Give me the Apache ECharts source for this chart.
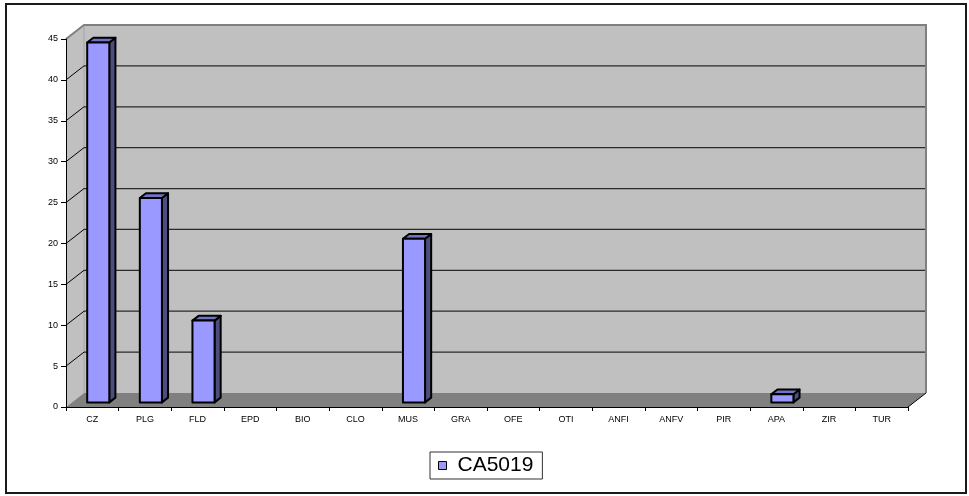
<!DOCTYPE html>
<html>
<head>
<meta charset="utf-8">
<script src="https://cdn.jsdelivr.net/npm/echarts@6/dist/echarts.min.js"></script>
<style>
  html, body { margin: 0; padding: 0; background: #fff; }
  #chart { width: 969px; height: 496px; }
</style>
</head>
<body>
<div id="chart"></div>
<script>
// Mineral categories and counts for sample CA5019
const categories = ['CZ', 'PLG', 'FLD', 'EPD', 'BIO', 'CLO', 'MUS', 'GRA', 'OFE', 'OTI', 'ANFI', 'ANFV', 'PIR', 'APA', 'ZIR', 'TUR'];
const values = [44, 25, 10, 0, 0, 0, 20, 0, 0, 0, 0, 0, 0, 1, 0, 0];
const seriesName = 'CA5019';
const yTicks = [0, 5, 10, 15, 20, 25, 30, 35, 40, 45];

// Depth of the pseudo-3D box (pixels, back plane offset)
const DX = 18, DY = -14;
const FONT = '"Liberation Sans", Arial, sans-serif';

// Walls, floor and gridlines of the 3D box
function renderFrame(params, api) {
  const cs = params.coordSys;
  const x0 = cs.x, x1 = cs.x + cs.width;
  const yt = cs.y, yb = cs.y + cs.height;
  const children = [];
  children.push({ type: 'polygon', shape: { points: [[x0, yt], [x0 + DX, yt + DY], [x0 + DX, yb + DY], [x0, yb]] },
    style: { fill: '#c0c0c0' } });
  children.push({ type: 'rect', shape: { x: x0 + DX, y: yt + DY, width: x1 - x0, height: yb - yt },
    style: { fill: '#c0c0c0' } });
  children.push({ type: 'polygon', shape: { points: [[x0, yb], [x1, yb], [x1 + DX, yb + DY], [x0 + DX, yb + DY]] },
    style: { fill: '#808080' } });
  children.push({ type: 'line', shape: { x1: x0 + DX, y1: yt + DY, x2: x0 + DX, y2: yb + DY },
    style: { stroke: '#a6a6a6', lineWidth: 1 } });
  yTicks.slice(1, -1).forEach(function (v) {
    const y = api.coord([0, v])[1];
    children.push({ type: 'line', shape: { x1: x0, y1: y, x2: x0 + DX, y2: y + DY },
      style: { stroke: '#000', lineWidth: 1 } });
    children.push({ type: 'line', shape: { x1: x0 + DX, y1: y + DY, x2: x1 + DX, y2: y + DY },
      style: { stroke: '#2a2a2a', lineWidth: 1.3 } });
  });
  children.push({ type: 'polyline', shape: { points: [[x0, yt], [x0 + DX, yt + DY], [x1 + DX, yt + DY], [x1 + DX, yb + DY]] },
    style: { stroke: '#808080', lineWidth: 2, fill: null } });
  children.push({ type: 'line', shape: { x1: x1, y1: yb, x2: x1 + DX, y2: yb + DY },
    style: { stroke: '#000', lineWidth: 1 } });
  return { type: 'group', children: children };
}

// One prism per category: front, side and top faces
function renderBar(params, api) {
  const idx = api.value(0), v = api.value(1);
  if (!v) return null;
  const base = api.coord([idx, 0]);
  const top = api.coord([idx, v]);
  const band = api.size([1, 0])[0];
  const w = band * 0.42;
  const f = 0.33, b = 0.67;
  const fx = DX * f, fy = DY * f;
  const dx = DX * (b - f), dy = DY * (b - f);
  const L = base[0] - w / 2 + fx, R = base[0] + w / 2 + fx;
  const B = base[1] + fy, T = top[1] + fy;
  const stroke = { stroke: '#000', lineWidth: 2, lineJoin: 'round' };
  return {
    type: 'group',
    children: [
      { type: 'polygon', shape: { points: [[R, B], [R + dx, B + dy], [R + dx, T + dy], [R, T]] },
        style: Object.assign({ fill: '#4d4d80' }, stroke) },
      { type: 'polygon', shape: { points: [[L, T], [L + dx, T + dy], [R + dx, T + dy], [R, T]] },
        style: Object.assign({ fill: '#7373c4' }, stroke) },
      { type: 'rect', shape: { x: L, y: T, width: R - L, height: B - T },
        style: Object.assign({ fill: '#9999ff' }, stroke) }
    ]
  };
}

const chart = echarts.init(document.getElementById('chart'), null, { renderer: 'canvas' });
chart.setOption({
  animation: false,
  backgroundColor: '#fff',
  grid: { left: 66, right: 61, top: 39, bottom: 89, containLabel: false },
  xAxis: {
    type: 'category',
    data: categories,
    z: 10,
    axisLine: { lineStyle: { color: '#000', width: 1 } },
    axisTick: { show: true, length: 4, lineStyle: { color: '#000' } },
    axisLabel: { interval: 0, fontSize: 9, color: '#000', margin: 8, fontFamily: FONT },
    splitLine: { show: false }
  },
  yAxis: {
    type: 'value',
    min: yTicks[0],
    max: yTicks[yTicks.length - 1],
    interval: 5,
    z: 10,
    axisLine: { show: true, lineStyle: { color: '#000', width: 1 } },
    axisTick: { show: true, length: 5, lineStyle: { color: '#000' } },
    axisLabel: { fontSize: 9, color: '#000', margin: 8, fontFamily: FONT },
    splitLine: { show: false }
  },
  legend: {
    data: [{ name: seriesName, icon: 'rect' }],
    left: 430,
    top: 452,
    itemWidth: 8,
    itemHeight: 8,
    padding: [3, 9, 3, 8],
    borderColor: '#333',
    borderWidth: 1,
    selectedMode: false,
    itemStyle: { color: '#9999ff', borderColor: '#000', borderWidth: 1 },
    textStyle: { fontFamily: FONT, fontSize: 21, lineHeight: 21, color: '#000', padding: [0, 0, 0, 6] }
  },
  graphic: [{
    type: 'rect',
    shape: { x: 6, y: 4, width: 960, height: 489 },
    style: { fill: null, stroke: '#1a1a1a', lineWidth: 2 },
    silent: true
  }],
  series: [
    {
      type: 'custom',
      name: '_frame',
      z: 1,
      clip: false,
      renderItem: renderFrame,
      data: [[0, 0]],
      encode: { x: 0, y: 1 },
      silent: true
    },
    {
      type: 'custom',
      name: seriesName,
      z: 3,
      clip: false,
      itemStyle: { color: '#9999ff', borderColor: '#000', borderWidth: 1 },
      renderItem: renderBar,
      data: values.map(function (v, i) { return [i, v]; }),
      encode: { x: 0, y: 1 }
    }
  ]
});
</script>
</body>
</html>
